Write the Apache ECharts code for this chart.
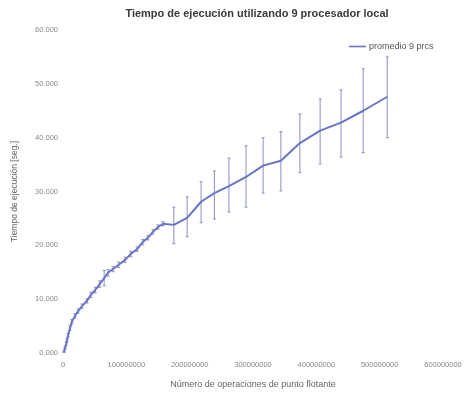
<!DOCTYPE html>
<html>
<head>
<meta charset="utf-8">
<script src="https://cdn.jsdelivr.net/npm/echarts@6/dist/echarts.min.js"></script>
<style>
  html, body { margin: 0; padding: 0; background: #ffffff; }
  #chart { width: 468px; height: 399px; }
</style>
</head>
<body>
<div id="chart"></div>
<script>
// Floating-point operations per run
const operaciones = [
  1600000, 3000000, 5000000, 6500000, 8000000, 11000000, 14000000, 19000000,
  24000000, 30000000, 38000000, 44000000, 51000000, 58000000, 65000000, 71000000,
  79000000, 88000000, 98000000, 107000000, 117000000, 126000000, 134000000, 142000000,
  150000000, 158000000, 175000000, 196000000, 218000000, 239000000, 262000000, 289000000,
  316000000, 344000000, 374000000, 406000000, 439000000, 474000000, 512000000
];
// Mean execution time [seg.] with 9 processes
const promedio = [
  200, 900, 1700, 2400, 3300, 4600, 5800, 6900,
  7800, 8700, 9700, 10800, 11700, 12800, 13900, 14900,
  15600, 16400, 17300, 18400, 19300, 20600, 21400, 22500,
  23400, 24000, 23800, 25100, 28100, 29700, 31000, 32700,
  34800, 35700, 39000, 41300, 42800, 45000, 47600
];
// Lowest and highest measured time for each size (error bars)
const minimo = [
  100, 700, 1400, 2100, 3000, 4200, 5400, 6500,
  7400, 8300, 9300, 10300, 11200, 12200, 12500, 14300,
  15100, 15900, 16800, 17900, 18900, 20100, 21000, 22100,
  23000, 23600, 20300, 21600, 24200, 24900, 26200, 27100,
  29700, 30100, 33500, 35100, 36400, 37200, 40000
];
const maximo = [
  300, 1100, 2000, 2700, 3600, 5000, 6200, 7300,
  8200, 9100, 10100, 11300, 12200, 13400, 15300, 15500,
  16100, 16900, 17800, 18900, 19700, 21100, 21800, 22900,
  23800, 24400, 27100, 29000, 31800, 33800, 36200, 38500,
  40000, 41100, 44400, 47200, 48900, 52800, 55000
];

const chart = echarts.init(document.getElementById('chart'), null, { renderer: 'canvas' });

const lineColor = '#6a74c6';
const barColor = '#8a90c2';
const labelColor = '#8a8a8a';
const fontFamily = 'Liberation Sans, Arial, sans-serif';

const formatY = v => (v === 0 ? '0.000' : (v / 1000) + '.000');
const formatX = v => String(v);

chart.setOption({
  animation: false,
  backgroundColor: '#ffffff',
  title: {
    text: 'Tiempo de ejecución utilizando 9 procesador local',
    left: 252,
    textAlign: 'center',
    top: 3,
    textStyle: { fontFamily, fontSize: 11, fontWeight: 'bold', color: '#3a3a3a' }
  },
  legend: {
    data: ['promedio 9 prcs'],
    left: 344,
    top: 37,
    icon: 'rect',
    itemWidth: 17,
    itemHeight: 1.6,
    itemGap: 4,
    textStyle: { fontFamily, fontSize: 9, color: '#555555', padding: [0, 0, 0, -2] }
  },
  grid: { left: 63, right: 25, top: 30, bottom: 46, containLabel: false },
  xAxis: {
    type: 'value',
    min: 0,
    max: 600000000,
    interval: 100000000,
    name: 'Número de operaciones de punto flotante',
    nameLocation: 'middle',
    nameGap: 27,
    nameTextStyle: { fontFamily, fontSize: 9, color: '#666666' },
    axisLine: { show: false },
    axisTick: { show: false },
    splitLine: { show: false },
    axisLabel: { fontFamily, fontSize: 7.5, color: labelColor, margin: 8, formatter: formatX }
  },
  yAxis: {
    type: 'value',
    min: 0,
    max: 60000,
    interval: 10000,
    name: 'Tiempo de ejecución [seg.]',
    nameLocation: 'middle',
    nameGap: 44,
    nameTextStyle: { fontFamily, fontSize: 8.5, color: '#666666' },
    axisLine: { show: false },
    axisTick: { show: false },
    splitLine: { show: false },
    axisLabel: { fontFamily, fontSize: 7.5, color: labelColor, margin: 5, formatter: formatY }
  },
  series: [
    {
      name: 'barras',
      type: 'custom',
      z: 1,
      silent: true,
      renderItem: function (params, api) {
        const x = api.value(0);
        const lo = api.coord([x, api.value(1)]);
        const hi = api.coord([x, api.value(2)]);
        const cap = 1.5;
        const style = { stroke: barColor, lineWidth: 1 };
        return {
          type: 'group',
          children: [
            { type: 'line', shape: { x1: lo[0], y1: lo[1], x2: hi[0], y2: hi[1] }, style },
            { type: 'line', shape: { x1: hi[0] - cap, y1: hi[1], x2: hi[0] + cap, y2: hi[1] }, style },
            { type: 'line', shape: { x1: lo[0] - cap, y1: lo[1], x2: lo[0] + cap, y2: lo[1] }, style }
          ]
        };
      },
      encode: { x: 0, y: [1, 2] },
      data: operaciones.map((x, i) => [x, minimo[i], maximo[i]])
    },
    {
      name: 'promedio 9 prcs',
      type: 'line',
      z: 2,
      showSymbol: false,
      color: lineColor,
      lineStyle: { color: lineColor, width: 2 },
      data: operaciones.map((x, i) => [x, promedio[i]])
    }
  ]
});
</script>
</body>
</html>
